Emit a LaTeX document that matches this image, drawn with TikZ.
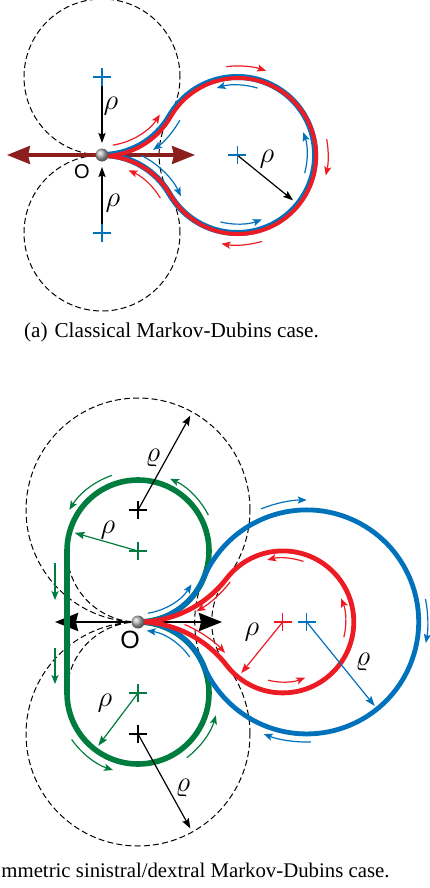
\documentclass[tikz,border=0pt]{standalone}
\usepackage{fontspec}
\setmainfont{Liberation Serif}
\setsansfont{Liberation Sans}
\usetikzlibrary{arrows.meta}
\definecolor{mdblue}{RGB}{0,114,188}
\definecolor{mdred}{RGB}{237,28,36}
\definecolor{mdgreen}{RGB}{0,125,62}
\definecolor{mdbrown}{RGB}{140,30,30}
\newcommand{\ctrmark}[2]{\draw[#1,line width=0.6pt] (#2) +(-9,0) -- +(9,0) +(0,-9) -- +(0,9);}
\begin{document}
\begin{tikzpicture}[x=0.5pt,y=0.5pt,
  guide/.style={black,line width=0.5pt,dash pattern=on 3pt off 1.6pt},
  trip/.style={line width=0.6pt,-{Stealth[length=4.5pt,width=3.6pt,inset=1pt]}},
  rad/.style={line width=0.6pt,-{Stealth[length=5pt,width=3.6pt,inset=0.8pt]}},
  bigarr/.style={line width=1.6pt,{Stealth[length=11.5pt,width=9pt,inset=1pt]}-{Stealth[length=11.5pt,width=9pt,inset=1pt]}},
  lbla/.style={font=\Large},
  lblb/.style={font=\Large}]
\useasboundingbox (0,0) rectangle (429,-888);
% (a) classical case
\begin{scope}[shift={(102,-155)}]
\coordinate (Oa) at (0,0);
\coordinate (Ua) at (0,78);
\coordinate (La) at (0,-78);
\coordinate (Ca) at (135.1,0);
\draw[guide] (Ua) circle[radius=78] (La) circle[radius=78] (Ca) circle[radius=78];
\draw[bigarr,mdbrown] (Oa) +(-95,0) -- +(93,0);
\draw[mdblue,line width=3pt] (Oa) arc[start angle=-90,end angle=-30,radius=78]
  arc[start angle=150,end angle=-150,radius=78] arc[start angle=30,end angle=90,radius=78];
\draw[mdred,line width=2pt] ([shift={(1,-1)}]Oa) arc[start angle=-90,end angle=-30,radius=78]
  arc[start angle=150,end angle=-150,radius=78] arc[start angle=30,end angle=90,radius=78];
\draw[trip,mdred] (Ua) ++(-81:69) arc[start angle=-81,end angle=-33,radius=69];
\draw[trip,mdred] (Ca) ++(97:89) arc[start angle=97,end angle=71,radius=89];
\draw[trip,mdred] (Ca) ++(10:91) arc[start angle=10,end angle=-13,radius=91];
\draw[trip,mdred] (Ca) ++(-74:90) arc[start angle=-74,end angle=-100,radius=90];
\draw[trip,mdred] (La) ++(31:68) arc[start angle=31,end angle=67,radius=68];
\draw[trip,mdblue] (Ua) ++(-29:89) arc[start angle=-29,end angle=-55,radius=89];
\draw[trip,mdblue] (Ca) ++(73:70) arc[start angle=73,end angle=107,radius=70];
\draw[trip,mdblue] (Ca) ++(-15:70) arc[start angle=-15,end angle=19,radius=70];
\draw[trip,mdblue] (Ca) ++(-104:69) arc[start angle=-104,end angle=-69,radius=69];
\draw[trip,mdblue] (La) ++(63:87) arc[start angle=63,end angle=25,radius=87];
\draw[rad] (Ua) -- (0,12);
\draw[rad] (La) -- (0,-12);
\draw[rad] (Ca) -- +(-39:72);
\ctrmark{mdblue}{Ua}
\ctrmark{mdblue}{La}
\ctrmark{mdblue}{Ca}
\node[lbla] (rhoa1) at (9,49) {$\rho$};
\node[lbla] (rhoa2) at (11,-48) {$\rho$};
\node[lbla] (rhoa3) at (165,-4) {$\rho$};
\node[font=\sffamily\fontsize{10}{12}\selectfont] (oa) at (-20,-17) {O};
\shade[ball color=gray!60] (Oa) circle[radius=6.5];
\end{scope}
\node[anchor=base west,font=\fontsize{10.6}{12}\selectfont] (capa) at (17,-337) {(a)\hspace{3.5pt}Classical Markov-Dubins case.};
% (b) asymmetric case
\begin{scope}[shift={(138,-622)}]
\coordinate (Ob) at (0,0);
\coordinate (G1) at (0,71);
\coordinate (G2) at (0,-71);
\coordinate (B1) at (0,112);
\coordinate (B2) at (0,-112);
\coordinate (Rb) at (144.7,0);
\coordinate (Bb) at (168.7,0);
\draw[guide] (B1) circle[radius=112] (B2) circle[radius=112] (G1) circle[radius=71]
  (G2) circle[radius=71] (Rb) circle[radius=71] (Bb) circle[radius=112];
\draw[bigarr,line width=1.3pt,black] (Ob) +(-83,0) -- +(84,0);
\draw[mdgreen,line width=2.8pt] (Ob) arc[start angle=-90,end angle=180,radius=71] -- ++(0,-142)
  arc[start angle=180,end angle=450,radius=71];
\draw[mdblue,line width=2.4pt] (Ob) arc[start angle=-90,end angle=-22.8,radius=71]
  arc[start angle=157.2,end angle=-157.2,radius=112] arc[start angle=22.8,end angle=90,radius=71];
\draw[mdred,line width=2.4pt] (Ob) arc[start angle=-90,end angle=-37.7,radius=112]
  arc[start angle=142.3,end angle=-142.3,radius=71] arc[start angle=37.7,end angle=90,radius=112];
\draw[trip,mdgreen] (G1) ++(109:80) arc[start angle=109,end angle=149,radius=80];
\draw[trip,mdgreen] (G1) ++(27:79) arc[start angle=27,end angle=66,radius=79];
\draw[trip,mdgreen] (G2) ++(215:81) arc[start angle=215,end angle=252,radius=81];
\draw[trip,mdgreen] (G2) ++(-53:81) arc[start angle=-53,end angle=-16,radius=81];
\draw[trip,mdgreen] (-83,59) -- (-83,22);
\draw[trip,mdgreen] (-83,-26) -- (-83,-62);
\draw[trip,mdblue] (G1) ++(-81:63) arc[start angle=-81,end angle=-32,radius=63];
\draw[trip,mdblue] (G2) ++(35:63) arc[start angle=35,end angle=82,radius=63];
\draw[trip,mdblue] (Bb) ++(112:122) arc[start angle=112,end angle=90,radius=122];
\draw[trip,mdblue] (Bb) ++(11:121) arc[start angle=11,end angle=-10,radius=121];
\draw[trip,mdblue] (Bb) ++(-88:120) arc[start angle=-88,end angle=-111,radius=120];
\draw[trip,mdred] (B1) ++(-38:117) arc[start angle=-38,end angle=-60,radius=117];
\draw[trip,mdred] (B2) ++(67:119) arc[start angle=67,end angle=43,radius=119];
\draw[trip,mdred] (Rb) ++(71:64) arc[start angle=71,end angle=104,radius=64];
\draw[trip,mdred] (Rb) ++(-14:63) arc[start angle=-14,end angle=22,radius=63];
\draw[trip,mdred] (Rb) ++(-104:60) arc[start angle=-104,end angle=-68,radius=60];
\draw[rad] (B1) -- +(61:108);
\draw[rad] (B2) -- +(-61:108);
\draw[rad,mdgreen] (G1) -- +(164:66);
\draw[rad,mdgreen] (G2) -- +(233:66);
\draw[rad,mdred] (Rb) -- +(231:66);
\draw[rad,mdblue] (Bb) -- +(-51:108);
\ctrmark{black}{B1}
\ctrmark{black}{B2}
\ctrmark{mdgreen}{G1}
\ctrmark{mdgreen}{G2}
\ctrmark{mdred}{Rb}
\ctrmark{mdblue}{Bb}
\node[lblb] (vrb1) at (15,164) {$\varrho$};
\node[lblb] (rhob1) at (-30,92) {$\rho$};
\node[lblb] (rhob2) at (-33,-81) {$\rho$};
\node[lblb] (vrb2) at (45,-166) {$\varrho$};
\node[lblb] (rhob3) at (114,-10) {$\rho$};
\node[lblb] (vrb3) at (225,-40) {$\varrho$};
\node[font=\sffamily\fontsize{12.5}{14}\selectfont] (ob) at (-8,-18) {O};
\shade[ball color=gray!60] (Ob) circle[radius=6.5];
\end{scope}
\node[anchor=base west,font=\fontsize{10.4}{12}\selectfont,inner sep=0pt] (capb) at (1,-877) {mmetric sinistral/dextral Markov-Dubins case.};
\end{tikzpicture}
\end{document}
